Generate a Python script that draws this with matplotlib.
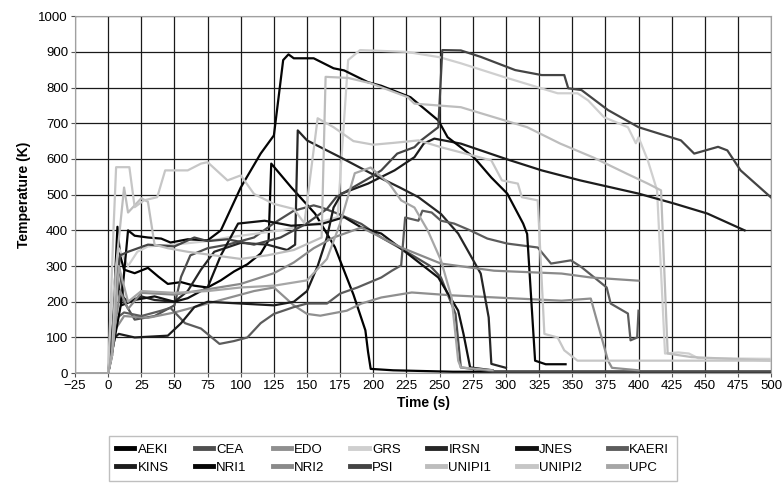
import matplotlib
matplotlib.use("Agg")
import matplotlib.pyplot as plt

plt.rcParams['font.family'] = ['Liberation Sans', 'DejaVu Sans']

# time (s) / temperature (K), per participant
t_aeki = [-25, 0, 2, 5, 7, 9, 12, 20, 30, 38, 45, 55, 65, 75, 85, 95, 105, 115, 121, 123, 138, 156, 171, 185, 194, 196, 198, 215, 260, 500]
v_aeki = [0, 0, 60, 250, 410, 330, 290, 280, 295, 270, 250, 255, 245, 240, 260, 285, 305, 335, 372, 587, 521, 447, 353, 220, 120, 60, 12, 8, 4, 4]

t_cea = [-25, 0, 3, 7, 12, 20, 35, 50, 55, 62, 75, 90, 110, 125, 140, 155, 161, 173, 191, 206, 225, 243, 251, 262, 266, 290, 500]
v_cea = [0, 0, 120, 330, 200, 150, 160, 190, 270, 330, 350, 360, 380, 420, 455, 470, 464, 447, 418, 380, 340, 300, 268, 166, 16, 5, 5]

t_edo = [-25, 0, 5, 12, 30, 50, 70, 90, 110, 125, 140, 150, 160, 180, 191, 206, 229, 259, 342, 364, 377, 380, 400]
v_edo = [0, 0, 120, 160, 155, 170, 190, 210, 230, 240, 190, 166, 161, 175, 195, 212, 226, 218, 203, 209, 35, 15, 8]

t_grs = [-25, 0, 3, 8, 15, 22, 30, 55, 75, 90, 130, 155, 173, 181, 190, 225, 250, 266, 299, 339, 354, 362, 374, 392, 398, 400, 407, 414, 420, 430, 438, 445, 500]
v_grs = [0, 0, 200, 350, 300, 340, 355, 362, 370, 380, 400, 418, 437, 877, 905, 900, 885, 868, 829, 784, 784, 764, 717, 689, 644, 661, 596, 512, 55, 58, 55, 42, 40]

t_irsn = [-25, 0, 3, 6, 9, 15, 25, 35, 50, 60, 70, 80, 100, 120, 135, 141, 143, 150, 175, 198, 220, 234, 251, 264, 281, 287, 289, 300]
v_irsn = [0, 0, 50, 300, 220, 200, 215, 205, 200, 230, 290, 340, 365, 360, 345, 360, 680, 652, 605, 560, 520, 493, 446, 391, 279, 156, 26, 15]

t_jnes = [-25, 0, 3, 6, 10, 20, 35, 50, 60, 75, 85, 98, 118, 138, 161, 178, 191, 206, 223, 249, 264, 268, 273, 290]
v_jnes = [0, 0, 80, 260, 190, 205, 215, 200, 210, 240, 330, 419, 427, 413, 418, 437, 408, 391, 343, 268, 175, 110, 16, 8]

t_kaeri = [-25, 0, 5, 12, 25, 40, 47, 58, 70, 84, 95, 105, 115, 125, 140, 150, 165, 175, 188, 206, 214, 221, 224, 234, 237, 244, 251, 261, 273, 286, 301, 324, 334, 349, 357, 376, 379, 392, 394, 399, 400]
v_kaeri = [0, 0, 150, 170, 160, 175, 183, 140, 125, 82, 90, 100, 140, 166, 185, 195, 195, 223, 240, 268, 287, 302, 436, 427, 455, 450, 427, 419, 400, 377, 363, 352, 307, 316, 297, 240, 195, 167, 92, 100, 175]

t_kins = [-25, 0, 5, 8, 20, 45, 55, 65, 75, 100, 125, 140, 150, 158, 165, 170, 176, 196, 216, 231, 238, 246, 266, 300, 327, 356, 400, 427, 452, 480]
v_kins = [0, 0, 100, 110, 100, 105, 140, 185, 200, 195, 190, 200, 230, 300, 380, 464, 503, 531, 568, 605, 643, 657, 643, 600, 568, 540, 503, 475, 447, 400]

t_nri1 = [-25, 0, 5, 10, 15, 20, 30, 40, 47, 60, 75, 85, 100, 115, 125, 132, 136, 140, 155, 170, 178, 196, 206, 228, 249, 256, 276, 289, 301, 313, 316, 322, 330, 345]
v_nri1 = [0, 0, 100, 200, 400, 385, 380, 377, 366, 375, 372, 400, 520, 615, 666, 877, 893, 882, 882, 854, 848, 815, 805, 773, 708, 661, 604, 548, 503, 419, 390, 35, 25, 25]

t_nri2 = [-25, 0, 4, 9, 15, 25, 50, 75, 100, 125, 140, 155, 170, 191, 206, 221, 251, 291, 342, 364, 400]
v_nri2 = [0, 0, 100, 230, 180, 225, 220, 235, 250, 280, 310, 350, 380, 408, 380, 352, 307, 287, 279, 268, 259]

t_psi = [-25, 0, 4, 9, 15, 30, 50, 65, 75, 90, 110, 130, 150, 165, 172, 198, 206, 218, 231, 236, 249, 252, 266, 281, 307, 327, 344, 347, 357, 377, 400, 432, 442, 460, 467, 477, 500]
v_psi = [0, 0, 150, 330, 340, 360, 355, 380, 370, 375, 360, 380, 420, 460, 493, 549, 568, 615, 633, 652, 689, 905, 904, 886, 849, 835, 835, 798, 793, 737, 689, 652, 615, 634, 624, 568, 492]

t_unipi1 = [-25, 0, 3, 6, 12, 15, 25, 30, 35, 45, 60, 80, 100, 120, 140, 155, 161, 164, 181, 198, 226, 231, 266, 291, 316, 341, 366, 391, 407, 417, 422, 440, 500]
v_unipi1 = [0, 0, 50, 300, 520, 450, 490, 480, 360, 350, 340, 330, 320, 330, 345, 370, 380, 830, 827, 812, 773, 755, 745, 717, 689, 643, 604, 559, 531, 512, 55, 45, 35]

t_unipi2 = [-25, 0, 4, 6, 16, 20, 27, 37, 43, 60, 70, 75, 90, 100, 110, 125, 140, 148, 158, 170, 185, 200, 215, 234, 251, 289, 297, 309, 312, 324, 329, 339, 344, 354, 500]
v_unipi2 = [0, 0, 400, 577, 577, 465, 484, 493, 568, 568, 587, 591, 540, 554, 502, 474, 460, 420, 714, 689, 650, 640, 645, 652, 633, 596, 540, 531, 493, 484, 110, 100, 64, 35, 35]

t_upc = [-25, 0, 4, 8, 15, 25, 50, 75, 100, 125, 150, 165, 175, 186, 198, 212, 221, 231, 241, 251, 259, 264, 266, 290]
v_upc = [0, 0, 80, 300, 200, 230, 225, 230, 240, 245, 260, 320, 420, 560, 576, 531, 484, 464, 400, 316, 212, 35, 16, 8]

series = [
    ("AEKI", t_aeki, v_aeki, "#000000"),
    ("CEA", t_cea, v_cea, "#4f4f4f"),
    ("EDO", t_edo, v_edo, "#8f8f8f"),
    ("GRS", t_grs, v_grs, "#cfcfcf"),
    ("IRSN", t_irsn, v_irsn, "#262626"),
    ("JNES", t_jnes, v_jnes, "#111111"),
    ("KAERI", t_kaeri, v_kaeri, "#5c5c5c"),
    ("KINS", t_kins, v_kins, "#1c1c1c"),
    ("NRI1", t_nri1, v_nri1, "#050505"),
    ("NRI2", t_nri2, v_nri2, "#8a8a8a"),
    ("PSI", t_psi, v_psi, "#444444"),
    ("UNIPI1", t_unipi1, v_unipi1, "#bdbdbd"),
    ("UNIPI2", t_unipi2, v_unipi2, "#c6c6c6"),
    ("UPC", t_upc, v_upc, "#a6a6a6"),
]

fig = plt.figure(figsize=(7.83, 4.84), dpi=100)
ax = fig.add_axes([0.0958, 0.229, 0.889, 0.7376])

lines = []
for name, t, v, c in series:
    ln, = ax.plot(t, v, color=c, lw=1.6, label=name)
    lines.append(ln)

ax.set_xlim(-25, 500)
ax.set_ylim(0, 1000)
ax.set_xticks(range(-25, 501, 25))
ax.set_yticks(range(0, 1001, 100))
ax.grid(True, color="#1a1a1a", lw=0.9)
ax.set_axisbelow(True)
for s in ax.spines.values():
    s.set_color("#a0a0a0")
ax.tick_params(labelsize=9.5, length=3, color="#555555", pad=2)

ax.set_xlabel("Time (s)", fontsize=10, fontweight="bold", labelpad=3)
ax.set_ylabel("Temperature (K)", fontsize=10, fontweight="bold", labelpad=5)

# legend fills row by row: reorder for matplotlib's column-wise layout
ncol = 7
order = [r * ncol + c for c in range(ncol) for r in range(2)]
leg = fig.legend([lines[i] for i in order], [series[i][0] for i in order],
                 loc="center", bbox_to_anchor=(0.5015, 0.052), ncol=ncol, fontsize=9.5,
                 frameon=True, fancybox=False, edgecolor="#b0b0b0", handlelength=1.4,
                 handletextpad=0.25, columnspacing=1.95, borderpad=0.55, labelspacing=0.45)
for h in leg.legend_handles:
    h.set_linewidth(3.5)

fig.savefig("out.png", dpi=100)
